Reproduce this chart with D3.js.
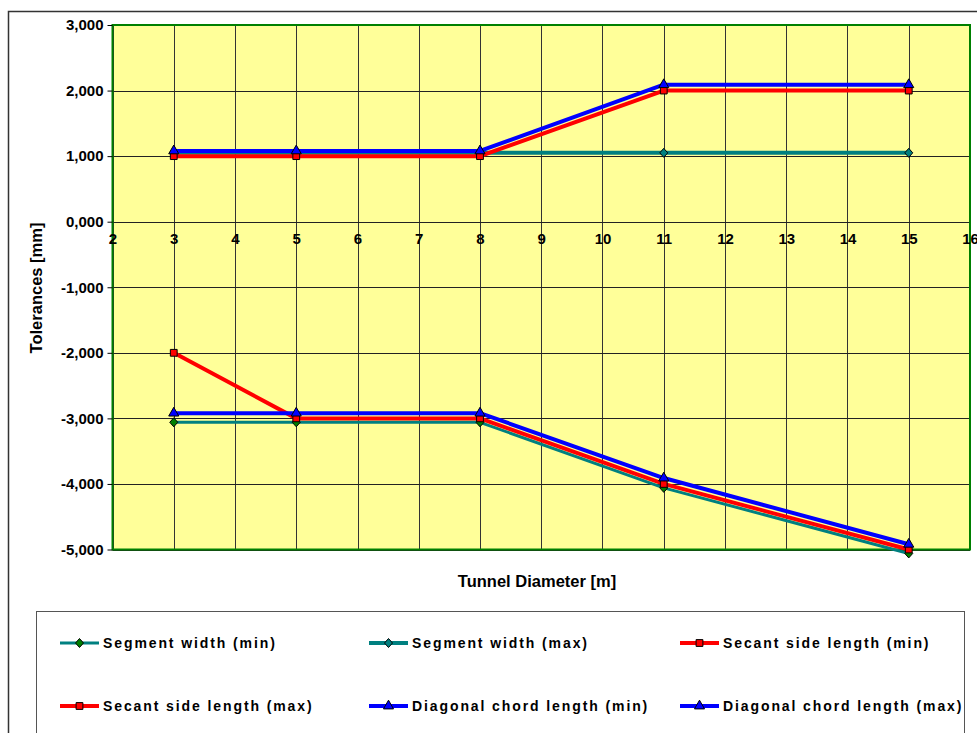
<!DOCTYPE html>
<html>
<head>
<meta charset="utf-8">
<script src="https://cdn.jsdelivr.net/npm/d3@7"></script>
<style>
  body { margin: 0; background: #fff; }
  svg { font-family: Arial, "Liberation Sans", sans-serif; font-weight: bold; }
</style>
</head>
<body>
<div id="chart"></div>
<script>
// Tunnel diameters [m]
const diameters = [3, 5, 8, 11, 15];

// Tolerances [mm] per series
const segWidthMin = [-3.06, -3.06, -3.06, -4.06, -5.06];
const segWidthMax = [1.05, 1.05, 1.05, 1.05, 1.05];
const secantMin = [-2, -3, -3, -4, -5];
const secantMax = [1, 1, 1, 2, 2];
const diagMin = [-2.92, -2.92, -2.92, -3.91, -4.92];
const diagMax = [1.08, 1.08, 1.08, 2.09, 2.09];

const seriesNames = [
    "Segment width (min)", "Segment width (max)",
    "Secant side length (min)", "Secant side length (max)",
    "Diagonal chord length (min)", "Diagonal chord length (max)"
];

// axis ticks
const xTicks = [2, 3, 4, 5, 6, 7, 8, 9, 10, 11, 12, 13, 14, 15, 16];
const yTicks = [3, 2, 1, 0, -1, -2, -3, -4, -5];

// styles per series
const styles = [
    { color: "#008080", width: 3, symbol: "diamond", fill: "#008000" },
    { color: "#008080", width: 4, symbol: "diamond", fill: "#008080" },
    { color: "#ff0000", width: 4, symbol: "square", fill: "#ff0000" },
    { color: "#ff0000", width: 4, symbol: "square", fill: "#ff0000" },
    { color: "#0000ff", width: 4, symbol: "triangle", fill: "#0000ff" },
    { color: "#0000ff", width: 4, symbol: "triangle", fill: "#0000ff" }
];

const series = [segWidthMin, segWidthMax, secantMin, secantMax, diagMin, diagMax]
    .map((vals, i) => ({
        name: seriesNames[i],
        style: styles[i],
        points: vals.map((v, j) => ({ x: diameters[j], y: v }))
    }));

const W = 977, H = 733;
const plot = { left: 112.5, right: 970, top: 25, bottom: 549.5 };

const svg = d3.select("#chart").append("svg")
    .attr("width", W)
    .attr("height", H);

// outer chart frame
svg.append("rect")
    .attr("x", 8.5).attr("y", 11.5)
    .attr("width", W + 20).attr("height", H + 20)
    .attr("fill", "#fff")
    .attr("stroke", "#333")
    .attr("stroke-width", 1.5);

const x = d3.scaleLinear().domain([2, 16]).range([plot.left, plot.right]);
const y = d3.scaleLinear().domain([-5, 3]).range([plot.bottom, plot.top]);

const fmt = d3.formatLocale({ decimal: ",", thousands: ".", grouping: [3], currency: ["", ""], minus: "-" }).format(".3f");

// plot background
svg.append("rect")
    .attr("x", plot.left).attr("y", plot.top)
    .attr("width", plot.right - plot.left)
    .attr("height", plot.bottom - plot.top)
    .attr("fill", "#ffff99");

// gridlines
svg.append("g").selectAll("line")
    .data(xTicks)
    .enter().append("line")
    .attr("x1", d => Math.round(x(d)) + 0.5)
    .attr("x2", d => Math.round(x(d)) + 0.5)
    .attr("y1", plot.top).attr("y2", plot.bottom)
    .attr("stroke", "#333").attr("stroke-width", 1);

svg.append("g").selectAll("line")
    .data(yTicks)
    .enter().append("line")
    .attr("x1", plot.left).attr("x2", plot.right)
    .attr("y1", d => Math.round(y(d)) + 0.5)
    .attr("y2", d => Math.round(y(d)) + 0.5)
    .attr("stroke", "#222").attr("stroke-width", 1);

// plot border
svg.append("rect")
    .attr("x", plot.left).attr("y", plot.top)
    .attr("width", plot.right - plot.left)
    .attr("height", plot.bottom - plot.top)
    .attr("fill", "none")
    .attr("stroke", "#008000")
    .attr("stroke-width", 2);

// y axis
const yAxis = d3.axisLeft(y)
    .tickValues(yTicks)
    .tickSize(5)
    .tickPadding(4)
    .tickFormat(fmt);

const gy = svg.append("g")
    .attr("transform", `translate(${plot.left},0)`)
    .call(yAxis);
gy.select(".domain").remove();
gy.selectAll(".tick line").attr("stroke", "#000");
gy.selectAll(".tick text")
    .attr("fill", "#000")
    .style("font-size", "15px")
    .style("font-weight", "bold");

// x axis labels sit on the zero line
const xAxis = d3.axisBottom(x)
    .tickValues(xTicks)
    .tickSize(0)
    .tickPadding(17)
    .tickFormat(d3.format("d"));

const gx = svg.append("g")
    .attr("transform", `translate(0,${y(0)})`)
    .call(xAxis);
gx.select(".domain").remove();
gx.selectAll(".tick text")
    .attr("fill", "#000")
    .attr("dy", "0")
    .attr("dominant-baseline", "central")
    .style("font-size", "15px")
    .style("font-weight", "bold");

// axis titles
svg.append("text")
    .attr("transform", "translate(36,288) rotate(-90)")
    .attr("text-anchor", "middle")
    .attr("dominant-baseline", "central")
    .style("font-size", "16.5px")
    .text("Tolerances [mm]");

svg.append("text")
    .attr("x", 537)
    .attr("y", 581)
    .attr("text-anchor", "middle")
    .attr("dominant-baseline", "central")
    .style("font-size", "16.5px")
    .text("Tunnel Diameter [m]");

// markers
function markerPath(type) {
    if (type === "diamond") return "M0,-4.5L4,0L0,4.5L-4,0Z";
    if (type === "square") return d3.symbol(d3.symbolSquare, 46)();
    return d3.symbol(d3.symbolTriangle, 44)();
}

const line = d3.line()
    .x(d => x(d.x))
    .y(d => y(d.y));

const sg = svg.append("g").selectAll("g")
    .data(series)
    .enter().append("g");

sg.append("path")
    .attr("d", d => line(d.points))
    .attr("fill", "none")
    .attr("stroke", d => d.style.color)
    .attr("stroke-width", d => d.style.width)
    .attr("stroke-linejoin", "round");

sg.each(function (s) {
    d3.select(this).selectAll(".mk")
        .data(s.points)
        .enter().append("path")
        .attr("class", "mk")
        .attr("transform", d => `translate(${x(d.x)},${y(d.y)})`)
        .attr("d", markerPath(s.style.symbol))
        .attr("fill", s.style.fill)
        .attr("stroke", "#000")
        .attr("stroke-width", 1);
});

// legend
svg.append("rect")
    .attr("x", 36.5).attr("y", 611.5)
    .attr("width", 928).attr("height", 140)
    .attr("fill", "#fff")
    .attr("stroke", "#555")
    .attr("stroke-width", 1);

const legCols = [60, 369, 680];
const legRows = [643, 706];

const lg = svg.append("g").selectAll("g")
    .data(series)
    .enter().append("g")
    .attr("transform", (d, i) => `translate(${legCols[i % 3]},${legRows[Math.floor(i / 3)]})`);

lg.append("line")
    .attr("x1", 0).attr("x2", 39)
    .attr("y1", 0).attr("y2", 0)
    .attr("stroke", d => d.style.color)
    .attr("stroke-width", d => d.style.width);

lg.append("path")
    .attr("transform", "translate(19.5,0)")
    .attr("d", d => markerPath(d.style.symbol))
    .attr("fill", d => d.style.fill)
    .attr("stroke", "#000")
    .attr("stroke-width", 1);

lg.append("text")
    .attr("x", 43)
    .attr("y", 0)
    .attr("dominant-baseline", "central")
    .style("font-size", "14px")
    .style("letter-spacing", "1.9px")
    .text(d => d.name);
</script>
</body>
</html>
